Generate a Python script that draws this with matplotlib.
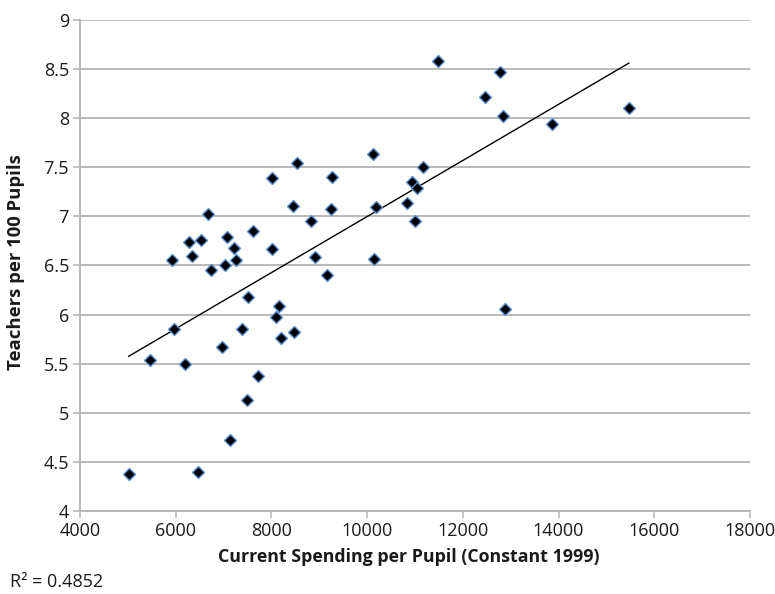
import numpy as np
import matplotlib
matplotlib.use("Agg")
import matplotlib.pyplot as plt

plt.rcParams['font.family'] = ['Open Sans', 'DejaVu Sans']

spending = [10117, 8535, 8020, 9267, 8445, 9239, 10193, 10827, 10939, 11036,
            10995, 11162, 6682, 8828, 7622, 7066, 6278, 6529, 7219, 6334,
            8006, 8912, 10151, 5923, 7260, 7031, 6731, 9156, 7504, 8159,
            8103, 5958, 7393, 8194, 8479, 6968, 5463, 6201, 7720, 7497,
            7128, 6466, 5017, 11482, 12778, 12471, 12847, 13858, 15468, 12876]
teachers = [7.64, 7.54, 7.39, 7.40, 7.11, 7.08, 7.10, 7.14, 7.35, 7.29,
            6.95, 7.50, 7.02, 6.95, 6.85, 6.79, 6.74, 6.76, 6.68, 6.60,
            6.665, 6.59, 6.57, 6.56, 6.56, 6.50, 6.45, 6.40, 6.18, 6.09,
            5.98, 5.85, 5.85, 5.76, 5.82, 5.67, 5.54, 5.50, 5.37, 5.13,
            4.72, 4.40, 4.38, 8.58, 8.47, 8.22, 8.02, 7.94, 8.10, 6.06]
x_ticks = [4000, 6000, 8000, 10000, 12000, 14000, 16000, 18000]
y_ticks = [4, 4.5, 5, 5.5, 6, 6.5, 7, 7.5, 8, 8.5, 9]
y_ticklabels = ["4", "4.5", "5", "5.5", "6", "6.5", "7", "7.5", "8", "8.5", "9"]
x_label = "Current Spending per Pupil (Constant 1999)"
y_label = "Teachers per 100 Pupils"
r2_text = "R² = 0.4852"

x = np.array(spending, dtype=float)
y = np.array(teachers, dtype=float)

fig = plt.figure(figsize=(7.75, 5.94), dpi=100)
ax = fig.add_axes([80/775, (594-511)/594, 670/775, 491/594])

grid_c = "#b3b3b3"
ax.set_xlim(4000, 18000)
ax.set_ylim(4, 9)
ax.set_xticks(x_ticks)
ax.set_xticklabels([str(t) for t in x_ticks])
ax.set_yticks(y_ticks)
ax.set_yticklabels(y_ticklabels)
ax.yaxis.grid(True, color=grid_c, linewidth=1.3)
ax.set_axisbelow(True)
for s in ["top", "right"]:
    ax.spines[s].set_visible(False)
for s in ["left", "bottom"]:
    ax.spines[s].set_color(grid_c)
    ax.spines[s].set_linewidth(1.3)
ax.tick_params(axis="both", direction="out", length=5, width=1.1, color=grid_c,
               labelsize=13, labelcolor="#1a1a1a", pad=3)

# trendline
coef = np.polyfit(x, y, 1)
xs = np.array([x.min(), x.max()])
ax.plot(xs, np.polyval(coef, xs), color="black", linewidth=1.0, zorder=2)

ax.plot(x, y, linestyle="none", marker="D", markersize=6.2,
        markerfacecolor="black", markeredgecolor="#5b8fd0", markeredgewidth=1.0, zorder=3)

ax.set_xlabel(x_label, fontsize=12.8, fontweight="bold", color="#1a1a1a", va="center")
ax.set_ylabel(y_label, fontsize=13.3, fontweight="bold", color="#1a1a1a", va="center")
ax.xaxis.set_label_coords((409 - 80) / 670, -(557 - 511) / 491)
ax.yaxis.set_label_coords((16 - 80) / 670, (511 - 262) / 491)

fig.text(10/775, 1 - 582/594, r2_text, fontsize=13, color="#1a1a1a", va="center", ha="left")

fig.savefig("out.png", dpi=100, facecolor="white")
